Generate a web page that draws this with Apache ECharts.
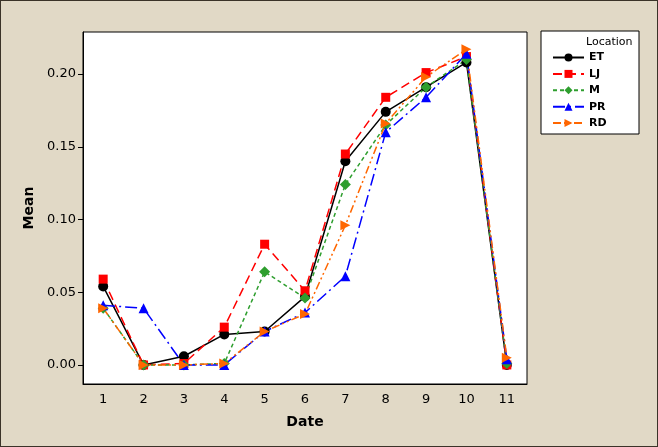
<!DOCTYPE html>
<html>
<head>
<meta charset="utf-8">
<script src="https://cdn.jsdelivr.net/npm/echarts@6/dist/echarts.min.js"></script>
<style>
  html, body { margin: 0; padding: 0; background: #e1d9c6; }
  #main { width: 656px; height: 445px; border: 1px solid #3a3328; }
</style>
</head>
<body>
<div id="main"></div>
<script>
// mean values per sampling date, one array per location
var dates = ['1', '2', '3', '4', '5', '6', '7', '8', '9', '10', '11']
var yTicks = [0, 0.05, 0.10, 0.15, 0.20]

var ET = [0.054, 0.000, 0.006, 0.021, 0.023, 0.047, 0.140, 0.174, 0.191, 0.208, 0.000]
var LJ = [0.059, 0.000, 0.001, 0.026, 0.083, 0.051, 0.145, 0.184, 0.201, 0.212, 0.000]
var M = [0.039, 0.000, 0.000, 0.001, 0.064, 0.046, 0.124, 0.165, 0.191, 0.210, 0.001]
var PR = [0.041, 0.039, 0.000, 0.000, 0.023, 0.036, 0.061, 0.160, 0.184, 0.214, 0.004]
var RD = [0.039, 0.000, 0.000, 0.001, 0.023, 0.035, 0.096, 0.166, 0.198, 0.217, 0.005]

var font = 'DejaVu Sans'

function makeSeries (name, data, color, symbol, size, dash, rotate) {
  return {
    name: name,
    type: 'line',
    data: data,
    symbol: symbol,
    symbolSize: size,
    symbolRotate: rotate || 0,
    color: color,
    itemStyle: { color: color },
    lineStyle: { color: color, width: 1.5, type: dash },
    animation: false
  }
}

var chart = echarts.init(document.getElementById('main'))
chart.setOption({
  backgroundColor: '#e1d9c6',
  textStyle: { fontFamily: font },
  grid: {
    left: 82, top: 31, right: 130, bottom: 62,
    show: true, backgroundColor: '#fff', borderColor: '#000', borderWidth: 1
  },
  graphic: [{
    type: 'rect',
    shape: { x: 540, y: 30, width: 98, height: 103 },
    style: { fill: '#fff', stroke: '#000', lineWidth: 1 },
    z: 0
  }, {
    type: 'text',
    left: 585, top: 36,
    style: { text: 'Location', font: '11px ' + font, fill: '#000' }
  }],
  legend: {
    orient: 'vertical',
    left: 546, top: 46,
    itemWidth: 31, itemHeight: 10, itemGap: 5.4,
    textStyle: { fontSize: 11, fontWeight: 'bold', fontFamily: font, color: '#000' },
    data: ['ET', 'LJ', 'M', 'PR', 'RD']
  },
  xAxis: {
    type: 'category',
    data: dates,
    boundaryGap: true,
    name: 'Date',
    nameLocation: 'middle',
    nameGap: 31,
    nameTextStyle: { fontSize: 14, fontWeight: 'bold', color: '#000', fontFamily: font },
    axisLine: { onZero: false, lineStyle: { color: '#000' } },
    axisTick: { alignWithLabel: true, length: 5, lineStyle: { color: '#000' } },
    axisLabel: { fontSize: 13, color: '#000', margin: 9 },
    splitLine: { show: false }
  },
  yAxis: {
    type: 'value',
    min: -0.0131,
    max: 0.2289,
    name: 'Mean',
    nameLocation: 'middle',
    nameGap: 46,
    nameTextStyle: { fontSize: 14, fontWeight: 'bold', color: '#000', fontFamily: font },
    axisLine: { show: true, lineStyle: { color: '#000' } },
    axisTick: { show: true, length: 5, customValues: yTicks, lineStyle: { color: '#000' } },
    axisLabel: {
      fontSize: 13, color: '#000', margin: 7, customValues: yTicks,
      formatter: function (v) { return v.toFixed(2) }
    },
    splitLine: { show: false }
  },
  series: [
    makeSeries('ET', ET, '#000000', 'circle', 10, 'solid'),
    makeSeries('LJ', LJ, '#ff0000', 'rect', 9, [9, 5]),
    makeSeries('M', M, '#2e9e2e', 'diamond', 11, [4, 3]),
    makeSeries('PR', PR, '#0000ff', 'triangle', 10, [12, 4, 2, 4]),
    makeSeries('RD', RD, '#ff6600', 'triangle', 10, [8, 3, 2, 3, 2, 3], -90)
  ]
})
</script>
</body>
</html>
